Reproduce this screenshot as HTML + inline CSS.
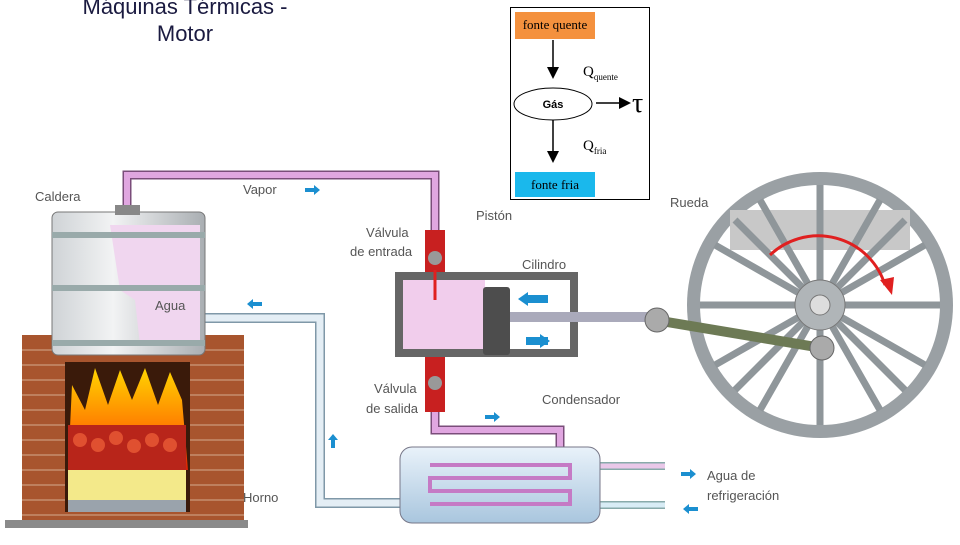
<!DOCTYPE html>
<html><head><meta charset="utf-8"><style>
body{margin:0;width:960px;height:540px;overflow:hidden;background:#fff;font-family:"Liberation Sans",sans-serif}
</style></head><body>
<svg width="960" height="540" viewBox="0 0 960 540" xmlns="http://www.w3.org/2000/svg" font-family="Liberation Sans, sans-serif">
<defs>
<marker id="ah" markerWidth="8" markerHeight="8" refX="6" refY="4" orient="auto"><path d="M0,0 L8,4 L0,8 z" fill="#000"/></marker>
<linearGradient id="fire" x1="0" y1="0" x2="0" y2="1"><stop offset="0" stop-color="#ffd400"/><stop offset="0.6" stop-color="#ff7a00"/><stop offset="1" stop-color="#d81e05"/></linearGradient>
<linearGradient id="boil" x1="0" x2="1"><stop offset="0" stop-color="#cfd3d6"/><stop offset="0.4" stop-color="#f2f3f4"/><stop offset="1" stop-color="#a9aeb2"/></linearGradient>
<linearGradient id="cond" x1="0" y1="0" x2="0" y2="1"><stop offset="0" stop-color="#e9f2fa"/><stop offset="1" stop-color="#a9c6de"/></linearGradient>
</defs>
<!-- title -->
<text x="185" y="14" font-size="22" fill="#1a1a40" text-anchor="middle">Máquinas Térmicas  -</text>
<text x="185" y="41" font-size="22" fill="#1a1a40" text-anchor="middle">Motor</text>
<!-- inset -->
<rect x="510.5" y="7.5" width="139" height="192" fill="#fff" stroke="#000"/>
<rect x="515" y="12" width="80" height="27" fill="#f4913e"/>
<text x="555" y="29" font-size="13" font-family="Liberation Serif,serif" text-anchor="middle">fonte quente</text>
<line x1="553" y1="40" x2="553" y2="76" stroke="#000" stroke-width="1.5" marker-end="url(#ah)"/>
<text x="583" y="76" font-size="15" font-family="Liberation Serif,serif">Q<tspan font-size="9" dy="4">quente</tspan></text>
<ellipse cx="553" cy="104" rx="39" ry="16" fill="#fff" stroke="#000"/>
<text x="553" y="108" font-size="11" font-weight="bold" text-anchor="middle">Gás</text>
<line x1="596" y1="103" x2="628" y2="103" stroke="#000" stroke-width="1.5" marker-end="url(#ah)"/>
<text x="632" y="112" font-size="28" font-family="Liberation Serif,serif">τ</text>
<line x1="553" y1="120" x2="553" y2="160" stroke="#000" stroke-width="1.5" marker-end="url(#ah)"/>
<text x="583" y="150" font-size="15" font-family="Liberation Serif,serif">Q<tspan font-size="9" dy="4">fria</tspan></text>
<rect x="515" y="172" width="80" height="25" fill="#1ab8ec"/>
<text x="555" y="189" font-size="13" font-family="Liberation Serif,serif" text-anchor="middle">fonte fria</text>
<!-- steam pipe -->
<path d="M127,212 V175 H435 V230" fill="none" stroke="#7a4d7a" stroke-width="9"/>
<path d="M127,212 V175 H435 V230" fill="none" stroke="#e0a6e0" stroke-width="6"/>
<!-- water pipe -->
<path d="M205,318 H320 V503 H402" fill="none" stroke="#7f98a8" stroke-width="10"/>
<path d="M205,318 H320 V503 H402" fill="none" stroke="#e4eef5" stroke-width="7"/>
<!-- exhaust pipe -->
<path d="M435,410 V430 H560 V450" fill="none" stroke="#7a4d7a" stroke-width="9"/>
<path d="M435,410 V430 H560 V450" fill="none" stroke="#e0a6e0" stroke-width="6"/>
<!-- refrigeration pipes -->
<path d="M600,466 H665 M600,505 H665" stroke="#8aa" stroke-width="8"/>
<path d="M600,466 H665" stroke="#e9c8e9" stroke-width="5"/>
<path d="M600,505 H665" stroke="#d8ecf5" stroke-width="5"/>
<!-- furnace -->
<rect x="22" y="335" width="222" height="190" fill="#a8552e"/>
<g stroke="#e8d2b8" stroke-width="1" opacity="0.7">
<path d="M22,350H244M22,365H244M22,380H244M22,395H244M22,410H244M22,425H244M22,440H244M22,455H244M22,470H244M22,485H244M22,500H244M22,515H244"/>
</g>
<rect x="65" y="362" width="125" height="150" fill="#3a1a0a"/>
<path d="M68,470 L72,385 L85,410 L95,368 L108,405 L120,370 L132,400 L145,368 L158,405 L170,372 L182,400 L188,470 Z" fill="url(#fire)"/>
<rect x="68" y="425" width="118" height="45" fill="#b8251a"/>
<g fill="#e05030"><circle cx="80" cy="440" r="7"/><circle cx="98" cy="445" r="7"/><circle cx="116" cy="438" r="7"/><circle cx="134" cy="446" r="7"/><circle cx="152" cy="440" r="7"/><circle cx="170" cy="445" r="7"/></g>
<rect x="68" y="470" width="118" height="40" fill="#f3e98a"/>
<rect x="68" y="500" width="118" height="12" fill="#9aa3ac"/>
<rect x="5" y="520" width="243" height="8" fill="#8a8a8a"/>
<!-- boiler -->
<rect x="52" y="212" width="153" height="143" rx="6" fill="url(#boil)" stroke="#777"/>
<path d="M110,225 L200,225 L200,345 L140,345 L135,300 L120,290 Z" fill="#f0d6ef"/>
<rect x="52" y="232" width="153" height="6" fill="#9aa"/>
<rect x="52" y="285" width="153" height="6" fill="#9aa"/>
<rect x="52" y="340" width="153" height="6" fill="#9aa"/>
<rect x="115" y="205" width="25" height="10" fill="#888"/>
<!-- cylinder -->
<rect x="395" y="272" width="183" height="85" fill="#666"/>
<rect x="403" y="280" width="167" height="69" fill="#fff"/>
<rect x="403" y="280" width="82" height="69" fill="#f1cdec"/>
<rect x="483" y="287" width="27" height="68" rx="3" fill="#4d4d4d"/>
<rect x="510" y="312" width="140" height="10" fill="#aab"/>
<path d="M548,299 H526 M548,341 H526" stroke="#1b8fd0" stroke-width="8"/>
<path d="M518,299 l10,-7 v14z M550,341 l-10,-7 v14z" fill="#1b8fd0"/>
<!-- valves -->
<rect x="425" y="230" width="20" height="42" fill="#c82020"/>
<rect x="425" y="357" width="20" height="55" fill="#c82020"/>
<circle cx="435" cy="258" r="7" fill="#999"/><circle cx="435" cy="383" r="7" fill="#999"/>
<path d="M435,270 V300" stroke="#e02020" stroke-width="3"/>
<!-- wheel -->
<circle cx="820" cy="305" r="133" fill="#9aa0a4"/>
<circle cx="820" cy="305" r="120" fill="#fff"/>
<rect x="730" y="210" width="180" height="40" fill="#c8c8c8"/>
<g stroke="#8f969a" stroke-width="7">
<line x1="820" y1="185" x2="820" y2="425"/><line x1="700" y1="305" x2="940" y2="305"/>
<line x1="735" y1="220" x2="905" y2="390"/><line x1="905" y1="220" x2="735" y2="390"/>
<line x1="760" y1="200" x2="880" y2="410"/><line x1="880" y1="200" x2="760" y2="410"/>
<line x1="715" y1="245" x2="925" y2="365"/><line x1="925" y1="245" x2="715" y2="365"/>
</g>
<circle cx="820" cy="305" r="25" fill="#b0b5b8" stroke="#777"/>
<circle cx="820" cy="305" r="10" fill="#ddd" stroke="#777"/>
<path d="M770,255 A70,70 0 0 1 885,285" fill="none" stroke="#e02020" stroke-width="3"/>
<path d="M880,280 l12,15 l2,-18z" fill="#e02020"/>
<line x1="655" y1="320" x2="822" y2="348" stroke="#6d7a55" stroke-width="10"/>
<circle cx="657" cy="320" r="12" fill="#aaa" stroke="#666"/>
<circle cx="822" cy="348" r="12" fill="#aaa" stroke="#666"/>
<!-- condenser -->
<rect x="400" y="447" width="200" height="76" rx="12" fill="url(#cond)" stroke="#778"/>
<path d="M430,465 H570 V478 H430 V491 H570 V504 H430" fill="none" stroke="#c57ac5" stroke-width="4"/>
<!-- labels -->
<g font-size="13" fill="#555">
<text x="35" y="201">Caldera</text>
<text x="243" y="194">Vapor</text>
<text x="366" y="237">Válvula</text><text x="350" y="256">de entrada</text>
<text x="476" y="220">Pistón</text>
<text x="522" y="269">Cilindro</text>
<text x="670" y="207">Rueda</text>
<text x="155" y="310">Agua</text>
<text x="374" y="393">Válvula</text><text x="366" y="413">de salida</text>
<text x="542" y="404">Condensador</text>
<text x="243" y="502">Horno</text>
<text x="707" y="480">Agua de</text><text x="707" y="500">refrigeración</text>
</g>
<g fill="#1b8fd0">
<path d="M305,188 h9 v-3 l6,5 l-6,5 v-3 h-9z"/>
<path d="M262,302 h-9 v-3 l-6,5 l6,5 v-3 h9z"/>
<path d="M485,415 h9 v-3 l6,5 l-6,5 v-3 h-9z"/>
<path d="M331,448 v-8 h-3 l5,-6 l5,6 h-3 v8z"/>
<path d="M681,472 h9 v-3 l6,5 l-6,5 v-3 h-9z"/>
<path d="M698,507 h-9 v-3 l-6,5 l6,5 v-3 h9z"/>
</g>
</svg>
</body></html>
